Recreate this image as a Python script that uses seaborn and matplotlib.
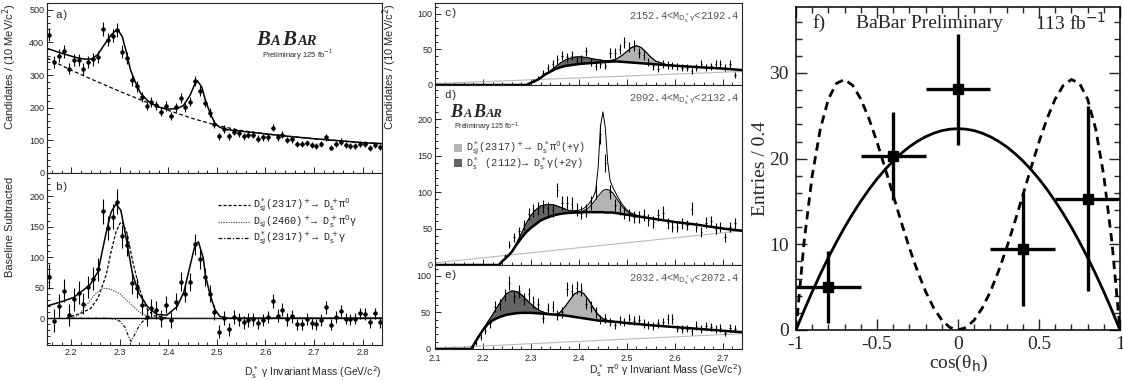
import numpy as np
import matplotlib
matplotlib.use("Agg")
import matplotlib.pyplot as plt
from matplotlib.ticker import MultipleLocator, FuncFormatter
from matplotlib.patches import Rectangle
import seaborn as sns

sns.set_style("ticks")
plt.rcParams["font.family"] = ["Liberation Sans", "DejaVu Sans"]
plt.rcParams["mathtext.fontset"] = "dejavusans"
plt.rcParams["axes.unicode_minus"] = False

## ---------------- data ----------------
# panels a,b : D_s* gamma mass, 10 MeV bins, first bin centre 2.155
ab_start = 2.155
cand_a = [424, 340, 360, 373, 320, 345, 347, 318, 340, 348,
          355, 441, 408, 421, 438, 372, 352, 284, 266, 233,
          206, 217, 207, 188, 205, 175, 201, 229, 201, 219,
          282, 252, 216, 185, 150, 113, 134, 113, 127, 122,
          113, 117, 117, 105, 109, 109, 139, 109, 117, 101,
          103, 89, 89, 93, 86, 83, 89, 109, 78, 89,
          96, 86, 83, 83, 89, 89, 76, 86, 79]
sub_b = [68, -4, 20, 45, 5, 31, 42, 24, 51, 65,
         80, 175, 148, 166, 191, 134, 120, 57, 49, 21,
         2, 17, 13, 0, 22, -3, 27, 60, 40, 60,
         121, 97, 68, 40, 10, -22, 0, -18, 2, -2,
         -7, -3, -2, -8, -3, 2, 28, 4, 14, -2,
         3, -10, -10, -1, -8, -10, -3, 18, -11, 2,
         11, -1, -2, -1, 8, 7, -7, 8, -7]

# fit curves
fit_a_x = [2.15, 2.18, 2.207, 2.227, 2.241, 2.254, 2.268, 2.282, 2.295, 2.305, 2.314, 2.322,
           2.333, 2.343, 2.357, 2.377, 2.397, 2.418, 2.431, 2.445, 2.455, 2.46, 2.469, 2.476,
           2.486, 2.496, 2.506, 2.52, 2.55, 2.60, 2.65, 2.70, 2.75, 2.80, 2.84]
fit_a_y = [382, 367, 355, 349, 349, 362, 393, 423, 441, 418, 367, 316,
           275, 244, 222, 203, 196, 197, 207, 239, 275, 282, 263, 224,
           183, 152, 140, 133, 128, 120, 112, 105, 99, 93, 90]
bkg_a_x = [2.15, 2.20, 2.25, 2.30, 2.35, 2.40, 2.45, 2.50, 2.55, 2.60, 2.65, 2.70, 2.75, 2.80, 2.84]
bkg_a_y = [352, 315, 282, 250, 220, 192, 167, 146, 130, 120, 112, 105, 99, 93, 90]

# panel b curves
tot_b_x = [2.15, 2.18, 2.205, 2.238, 2.255, 2.272, 2.282, 2.292, 2.302, 2.312, 2.326, 2.339, 2.357,
           2.376, 2.397, 2.418, 2.432, 2.445, 2.455, 2.462, 2.472, 2.476, 2.486, 2.496, 2.506, 2.52, 2.84]
tot_b_y = [20, 27, 34, 54, 76, 141, 174, 187, 177, 136, 73, 41, 19,
           6, 5, 19, 43, 87, 120, 125, 98, 71, 38, 14, 3, 0, 0]
pi0_b_x = [2.19, 2.20, 2.22, 2.24, 2.255, 2.272, 2.282, 2.292, 2.30, 2.305, 2.315, 2.326, 2.34, 2.355, 2.37, 2.40]
pi0_b_y = [0, 3, 8, 16, 33, 71, 109, 141, 155, 158, 139, 95, 49, 16, 4, 0]
dsj2460_b_x = [2.20, 2.215, 2.23, 2.25, 2.265, 2.28, 2.30, 2.32, 2.34, 2.36, 2.38, 2.50]
dsj2460_b_y = [0, 5, 20, 40, 49, 48, 40, 25, 10, 2, 0, 0]
gam_b_x = [2.20, 2.28, 2.29, 2.30, 2.31, 2.318, 2.323, 2.33, 2.34, 2.35, 2.36, 2.40]
gam_b_y = [0, 0, -2, -5, -14, -30, -38, -28, -12, -3, 0, 0]

# panels c,d,e : D_s* pi0 gamma mass, 10 MeV bins
c_start = 2.295
cand_c = [3, 6, 10, 17, 24, 30, 36, 41, 39, 41,
          34, 36, 47, 32, 26, 30, 27, 45, 45, 50,
          60, 53, 55, 45, 42, 32, 26, 23,
          30, 28, 27, 26, 24, 24, 20, 24, 30, 24, 26, 29, 30, 24, 30, 14]
d_start = 2.245
cand_d = [12, 28, 38, 46, 55, 70, 75, 78, 80, 78,
          75, 103, 85, 85, 84, 76, 72, 75, 85, 100,
          180, 140, 100, 82, 77, 71, 69, 66, 66, 68,
          62, 59, 68, 72, 57, 52, 52, 57, 55, 77,
          52, 45, 58, 60, 50, 52, 38, 52, 57]
e_start = 2.185
cand_e = [8, 16, 25, 35, 58, 61, 74, 90, 72, 79,
          68, 75, 64, 62, 42, 55, 58, 46, 50, 82,
          80, 84, 81, 62, 58, 50, 40, 42, 37, 33,
          39, 37, 41, 39, 40, 35, 33, 31, 35, 37,
          41, 41, 28, 27, 28, 24, 32, 27, 31, 30,
          27, 29, 22, 29, 28]

# fit pieces (background, D_s*(2112) part, D_sJ(2317) part)
xc = [2.10, 2.29, 2.30, 2.31, 2.32, 2.33, 2.34, 2.35, 2.36, 2.37, 2.38, 2.39, 2.40, 2.41, 2.42, 2.43, 2.44,
      2.45, 2.46, 2.47, 2.48, 2.49, 2.50, 2.51, 2.52, 2.53, 2.54, 2.55, 2.56, 2.58, 2.60, 2.65, 2.70, 2.74]
bg_c = [0, 0, 3, 6, 10, 15, 18.5, 22, 24.5, 26.5, 27.5, 28.5, 29.5, 30, 30.5, 31, 31.5,
        32, 32.5, 33, 33, 32.5, 32, 31.5, 31, 30.5, 30, 29.5, 29, 28, 27, 25, 23, 21]
dark_c = [0, 0, 0, 0, 0, 0, 1, 3, 5.5, 8, 9.5, 10.5, 10, 9, 7.5, 5.5, 4,
          2.5, 1.2, 0.5, 0, 0, 0, 0, 0, 0, 0, 0, 0, 0, 0, 0, 0, 0]
light_c = [0, 0, 0, 0, 0, 0, 0, 0, 0, 0, 0, 0, 0, 0, 0, 0, 0,
           0, 0.5, 1.5, 4, 9, 15, 21, 24, 22, 16, 9.5, 4.5, 1, 0, 0, 0, 0]

xd = [2.10, 2.233, 2.24, 2.25, 2.26, 2.27, 2.28, 2.29, 2.30, 2.31, 2.32, 2.33, 2.34, 2.35, 2.36, 2.37,
      2.38, 2.39, 2.40, 2.41, 2.42, 2.43, 2.435, 2.44, 2.445, 2.45, 2.455, 2.46, 2.465, 2.47, 2.48,
      2.49, 2.50, 2.51, 2.52, 2.53, 2.55, 2.60, 2.65, 2.70, 2.74]
bg_d = [0, 0, 5, 11, 18, 28, 37, 45, 51, 56, 61, 64, 66.5, 68.5, 70, 71,
        71.5, 72, 72, 72.5, 72.5, 72.5, 72.5, 72.5, 72.5, 72.5, 72, 72, 72, 72, 71,
        70, 69, 68, 67, 66, 64, 59, 55, 50, 47]
dark_d = [0, 0, 0, 0, 0.5, 2, 6, 12, 17, 19.5, 20, 18.5, 16.5, 13.5, 9.5, 6,
          3, 1.5, 0.5, 0, 0, 0, 0, 0, 0, 0, 0, 0, 0, 0, 0,
          0, 0, 0, 0, 0, 0, 0, 0, 0, 0]
light_d = [0, 0, 0, 0, 0, 0, 0, 0, 0, 0, 0, 0, 0, 0, 0, 0,
           0, 0, 0.5, 2, 6, 13, 17.5, 22, 26, 29.5, 31.5, 31.5, 30, 27.5, 19,
           10.5, 4.5, 1.5, 0.5, 0, 0, 0, 0, 0, 0]
narrow_d = [0, 0, 0, 0, 0, 0, 0, 0, 0, 0, 0, 0, 0, 0, 0, 0,
            0, 1, 2, 3, 4.5, 8, 12, 38, 92, 108, 85, 38, 14, 8, 4.5,
            3, 2, 1.5, 1, 0.5, 0, 0, 0, 0, 0]

xe = [2.10, 2.175, 2.18, 2.19, 2.20, 2.21, 2.22, 2.23, 2.24, 2.25, 2.26, 2.27, 2.28, 2.29, 2.30, 2.31,
      2.32, 2.33, 2.34, 2.35, 2.36, 2.37, 2.38, 2.39, 2.40, 2.41, 2.42, 2.43, 2.44, 2.45, 2.46, 2.48,
      2.50, 2.55, 2.60, 2.65, 2.70, 2.74]
bg_e = [0, 0, 5, 16, 26, 34, 39, 42.5, 45, 47, 48, 49, 49.5, 49.5, 49.5, 49,
        48.5, 48, 47.5, 47, 46.5, 46, 45, 44, 43, 42, 41, 40, 39, 38.5, 38, 37,
        35.5, 32.5, 30, 27.5, 25, 23]
dark_e = [0, 0, 0, 0, 0.5, 3, 8, 15, 23, 29, 31.5, 29.5, 25, 18.5, 12, 7,
          3.5, 1.5, 0.5, 0, 0, 0, 0, 0, 0, 0, 0, 0, 0, 0, 0, 0,
          0, 0, 0, 0, 0, 0]
light_e = [0, 0, 0, 0, 0, 0, 0, 0, 0, 0, 0, 0, 0, 0, 0, 0,
           0, 0, 0, 0.5, 3, 11, 21, 31, 36, 34, 26.5, 16.5, 8, 3, 1, 0,
           0, 0, 0, 0, 0, 0]

# thin grey line (other background) in c, d, e
grey_x = [2.10, 2.74]
grey_c = [2, 19]
grey_d = [3, 47]
grey_e = [1, 21]

slice_c = "2152.4<M$_{\\mathrm{D_s^*\\gamma}}$<2192.4"
slice_d = "2092.4<M$_{\\mathrm{D_s^*\\gamma}}$<2132.4"
slice_e = "2032.4<M$_{\\mathrm{D_s^*\\gamma}}$<2072.4"

# panel f : helicity angle
cos_x = [-0.8, -0.4, 0.0, 0.4, 0.8]
cos_y = [5.0, 20.3, 28.1, 9.4, 15.3]
cos_err = [4.2, 5.1, 6.5, 6.6, 10.8]
cos_grid = [-1.0, -0.95, -0.9, -0.85, -0.8, -0.75, -0.7, -0.65, -0.6, -0.55, -0.5,
            -0.45, -0.4, -0.35, -0.3, -0.25, -0.2, -0.15, -0.1, -0.05, 0.0,
            0.05, 0.1, 0.15, 0.2, 0.25, 0.3, 0.35, 0.4, 0.45, 0.5,
            0.55, 0.6, 0.65, 0.7, 0.75, 0.8, 0.85, 0.9, 0.95, 1.0]
spin0_fit = [0, 2.29, 4.47, 6.52, 8.46, 10.28, 11.99, 13.57, 15.04, 16.39, 17.63,
             18.74, 19.74, 20.62, 21.39, 22.03, 22.56, 22.97, 23.27, 23.44, 23.5,
             23.44, 23.27, 22.97, 22.56, 22.03, 21.39, 20.62, 19.74, 18.74, 17.63,
             16.39, 15.04, 13.57, 11.99, 10.28, 8.46, 6.52, 4.47, 2.29, 0]
spin1_fit = [0, 10.30, 18.01, 23.46, 26.96, 28.79, 29.24, 28.55, 26.96, 24.69, 21.94,
             18.89, 15.72, 12.58, 9.58, 6.86, 4.49, 2.57, 1.16, 0.29, 0,
             0.29, 1.16, 2.57, 4.49, 6.86, 9.58, 12.58, 15.72, 18.89, 21.94,
             24.69, 26.96, 28.55, 29.24, 28.79, 26.96, 23.46, 18.01, 10.30, 0]

## ---------------- figure ----------------
W, H = 1123, 381
fig = plt.figure(figsize=(W / 100, H / 100), dpi=100)


def box(l, t, r, b):
    return [l / W, 1 - b / H, (r - l) / W, (b - t) / H]


def fx(x):
    return x / W


def fy(y):
    return 1 - y / H


def root_style(ax, ymaj, ymin, show_x=True):
    ax.xaxis.set_major_locator(MultipleLocator(0.1))
    ax.xaxis.set_minor_locator(MultipleLocator(0.02))
    ax.yaxis.set_major_locator(MultipleLocator(ymaj))
    ax.yaxis.set_minor_locator(MultipleLocator(ymin))
    ax.tick_params(which="both", direction="in", top=False, right=False, labelsize=6.5,
                   width=0.7, pad=2, labelbottom=show_x)
    ax.tick_params(which="major", length=4.5)
    ax.tick_params(which="minor", length=2.2)
    for s in ax.spines.values():
        s.set_linewidth(0.8)
        s.set_color("#222222")
    ax.set_xlabel("")
    ax.set_ylabel("")


def babar(x, y, big):
    # BaBar logo: large B's, small A / AR
    small = big * 0.7
    kw = dict(family="Liberation Serif", weight="bold", style="italic", va="baseline", ha="left")
    bw = big * 100 / 72 * 0.73
    sw = small * 100 / 72 * 0.76
    fig.text(fx(x), fy(y), "B", fontsize=big, **kw)
    fig.text(fx(x + bw), fy(y), "A", fontsize=small, **kw)
    fig.text(fx(x + bw + sw), fy(y), "B", fontsize=big, **kw)
    fig.text(fx(x + 2 * bw + sw), fy(y), "AR", fontsize=small, **kw)


mono = "Liberation Mono"
x_ab = ab_start + 0.01 * np.arange(len(cand_a))
err_ab = np.sqrt(cand_a)

# ---- panel a
ax_a = fig.add_axes(box(47, 3, 382, 173))
sns.lineplot(x=bkg_a_x, y=bkg_a_y, ax=ax_a, color="k", lw=0.9, linestyle=(0, (3, 2)))
sns.lineplot(x=fit_a_x, y=fit_a_y, ax=ax_a, color="k", lw=1.1)
ax_a.errorbar(x_ab, cand_a, yerr=err_ab, xerr=0.0035, fmt="o", ms=2.2, color="k", lw=0.8, capsize=0)
ax_a.set_xlim(2.15, 2.84)
ax_a.set_ylim(0, 521)
root_style(ax_a, 100, 20, show_x=False)
ax_a.text(0.025, 0.93, "a)", transform=ax_a.transAxes, family=mono, fontsize=8, va="center")
babar(256, 45, 15)
fig.text(fx(262), fy(55), "Preliminary 125 fb$^{-1}$", fontsize=5.5, va="center")
fig.text(fx(10), fy(3), "Candidates / (10 MeV/c$^2$)", rotation=90, va="top", ha="center", fontsize=8)

# ---- panel b
ax_b = fig.add_axes(box(47, 173, 382, 345))
ax_b.axhline(0, color="k", lw=1.0)
sns.lineplot(x=pi0_b_x, y=pi0_b_y, ax=ax_b, color="k", lw=0.9, linestyle=(0, (2.5, 1.5)))
sns.lineplot(x=dsj2460_b_x, y=dsj2460_b_y, ax=ax_b, color="#555555", lw=0.9, linestyle=(0, (1, 1)))
sns.lineplot(x=gam_b_x, y=gam_b_y, ax=ax_b, color="k", lw=0.8, linestyle=(0, (3, 1.5, 1, 1.5)))
sns.lineplot(x=tot_b_x, y=tot_b_y, ax=ax_b, color="k", lw=1.1)
ax_b.errorbar(x_ab, sub_b, yerr=err_ab, xerr=0.0035, fmt="o", ms=2.2, color="k", lw=0.8, capsize=0)
ax_b.set_xlim(2.15, 2.84)
ax_b.set_ylim(-44, 238)
root_style(ax_b, 50, 10)
ax_b.text(0.025, 0.92, "b)", transform=ax_b.transAxes, family=mono, fontsize=8, va="center")
fig.text(fx(10), fy(177), "Baseline Subtracted", rotation=90, va="top", ha="center", fontsize=8)
fig.text(fx(382), fy(373), "D$_\\mathrm{s}^*$ \u03b3 Invariant Mass (GeV/c$^2$)", ha="right", va="center",
         fontsize=7.5)

leg_rows = [("D$^*_\\mathrm{sJ}$(2317)$^+$\u2192 D$^+_\\mathrm{s}$\u03c0$^0$", (0, (2.5, 1.5)), "k"),
            ("D$_\\mathrm{sJ}$(2460)$^+$\u2192 D$^+_\\mathrm{s}$\u03c0$^0$\u03b3", (0, (1, 1)), "#555555"),
            ("D$^*_\\mathrm{sJ}$(2317)$^+$\u2192 D$^+_\\mathrm{s}$\u03b3", (0, (3, 1.5, 1, 1.5)), "k")]
for i, (lab, ls, col) in enumerate(leg_rows):
    yy = 205 + 16.5 * i
    fig.lines.append(plt.Line2D([fx(218), fx(250)], [fy(yy), fy(yy)], transform=fig.transFigure,
                                color=col, lw=0.9, linestyle=ls))
    fig.text(fx(253), fy(yy), lab, family=mono, fontsize=7.3, va="center", color="#222222")

# ---- panels c, d, e
panels = [
    (box(435, 3, 742, 85), c_start, cand_c, xc, bg_c, dark_c, light_c, None, grey_c, 115, "c)", slice_c),
    (box(435, 85, 742, 265), d_start, cand_d, xd, bg_d, dark_d, light_d, narrow_d, grey_d, 247, "d)", slice_d),
    (box(435, 265, 742, 349), e_start, cand_e, xe, bg_e, dark_e, light_e, None, grey_e, 115, "e)", slice_e),
]
light_col = "#b4b4b4"
dark_col = "#646464"
for k, (rect, start, cand, xk, bg, dark, light, narrow, grey, ytop, tag, slc) in enumerate(panels):
    ax = fig.add_axes(rect)
    xk = np.array(xk)
    bg = np.array(bg)
    top_dark = bg + np.array(dark)
    top_light = bg + np.array(light)
    total = top_dark + np.array(light)
    if narrow is not None:
        total = total + np.array(narrow)
    sns.lineplot(x=grey_x, y=grey, ax=ax, color="#bbbbbb", lw=0.8)
    ax.fill_between(xk, bg, top_dark, where=np.array(dark) > 0, color=dark_col, lw=0, interpolate=True)
    ax.fill_between(xk, bg, top_light, where=np.array(light) > 0, color=light_col, lw=0, interpolate=True)
    sns.lineplot(x=xk, y=top_dark, ax=ax, color="k", lw=0.7)
    sns.lineplot(x=xk, y=top_light, ax=ax, color="k", lw=0.7)
    sns.lineplot(x=xk, y=total, ax=ax, color="k", lw=0.7)
    sns.lineplot(x=xk, y=bg, ax=ax, color="k", lw=1.8)
    xb = start + 0.01 * np.arange(len(cand))
    ax.errorbar(xb, cand, yerr=np.sqrt(cand), xerr=0.0015, fmt="none", color="k", lw=0.8, capsize=0)
    ax.set_xlim(2.1, 2.74)
    ax.set_ylim(0, ytop)
    root_style(ax, 50, 10, show_x=(k == 2))
    if k == 2:
        ax.tick_params(axis="x", pad=3.5)
        ax.tick_params(axis="y", pad=3)
    ytxt = 10 / ((rect[3]) * H)
    ax.text(0.03, 1 - ytxt, tag, transform=ax.transAxes, family=mono, fontsize=8, va="center")
    ax.text(0.99, 1 - 1.5 * ytxt, slc, transform=ax.transAxes, family=mono, fontsize=7.5,
            va="center", ha="right", color="#555555")

fig.text(fx(390), fy(3), "Candidates / (10 MeV/c$^2$)", rotation=90, va="top", ha="center", fontsize=8)
fig.text(fx(742), fy(371), "D$_\\mathrm{s}^*$ \u03c0$^0$ \u03b3 Invariant Mass (GeV/c$^2$)", ha="right",
         va="center", fontsize=7.5)
babar(450, 117, 13)
fig.text(fx(454), fy(127), "Preliminary 125 fb$^{-1}$", fontsize=5, va="center")
for i, (col, lab) in enumerate([(light_col, "D$^*_\\mathrm{sJ}$(2317)$^+$\u2192 D$^*_\\mathrm{s}$\u03c0$^0$(+\u03b3)"),
                                (dark_col, "D$^*_\\mathrm{s}$ (2112)\u2192 D$^*_\\mathrm{s}$\u03b3(+2\u03b3)")]):
    yy = 148 + 15.5 * i
    fig.patches.append(Rectangle((fx(454), fy(yy + 4)), 8 / W, 8 / H, transform=fig.transFigure,
                                 color=col, lw=0))
    fig.text(fx(466), fy(yy), lab, family=mono, fontsize=7.3, va="center", color="#333333")

# ---- panel f
ax_f = fig.add_axes(box(796, 7, 1120, 330))
sns.lineplot(x=cos_grid, y=spin1_fit, ax=ax_f, color="k", lw=2.0, linestyle=(0, (3, 2)))
sns.lineplot(x=cos_grid, y=spin0_fit, ax=ax_f, color="k", lw=2.0)
ax_f.errorbar(cos_x, cos_y, xerr=0.2, yerr=cos_err, fmt="s", ms=7, color="k", lw=2.4, capsize=0)
ax_f.set_xlim(-1, 1)
ax_f.set_ylim(0, 37.7)
ax_f.xaxis.set_major_locator(MultipleLocator(0.5))
ax_f.xaxis.set_minor_locator(MultipleLocator(0.1))
ax_f.yaxis.set_major_locator(MultipleLocator(10))
ax_f.yaxis.set_minor_locator(MultipleLocator(2))
ax_f.xaxis.set_major_formatter(FuncFormatter(lambda v, p: "%g" % v))
ax_f.tick_params(which="both", direction="in", top=True, right=True, width=1.0, labelsize=14)
ax_f.tick_params(axis="x", pad=4)
ax_f.tick_params(axis="y", pad=5)
ax_f.tick_params(which="major", length=8)
ax_f.tick_params(which="minor", length=4)
for lab in ax_f.get_xticklabels() + ax_f.get_yticklabels():
    lab.set_family("Liberation Serif")
for s in ax_f.spines.values():
    s.set_linewidth(1.1)
    s.set_color("k")
ax_f.set_xlabel("cos(\u03b8$_\\mathrm{h}$)", family="Liberation Serif", fontsize=14, labelpad=0)
ax_f.set_ylabel("Entries / 0.4", family="Liberation Serif", fontsize=14, labelpad=0)
fig.text(fx(812), fy(23), "f)", family="Liberation Serif", fontsize=14, va="center")
fig.text(fx(856), fy(23), "BaBar Preliminary", family="Liberation Serif", fontsize=14, va="center")
fig.text(fx(1035), fy(23), "113 fb$^{-1}$", family="Liberation Serif", fontsize=14, va="center")

fig.savefig("out.png", dpi=100)
